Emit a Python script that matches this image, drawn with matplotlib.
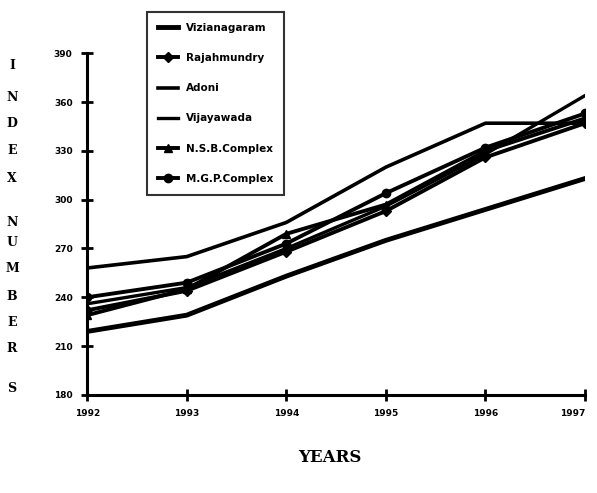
import numpy as np
import matplotlib.pyplot as plt

years = [1992, 1993, 1994, 1995, 1996, 1997]
vizianagaram = [219, 229, 253, 275, 294, 313]
rajahmundry = [232, 244, 268, 293, 326, 347]
adoni = [258, 265, 286, 320, 347, 347]
vijayawada = [236, 246, 270, 296, 328, 364]
nsb_complex = [229, 245, 279, 297, 330, 350]
mgp_complex = [240, 249, 273, 304, 332, 353]
yticks = [180, 210, 240, 270, 300, 330, 360, 390]

fig = plt.figure(figsize=(5.97, 4.93), dpi=100)
ax = fig.add_axes([0.146, 0.199, 0.834, 0.693])

ax.plot(years, vizianagaram, '-', color='black', lw=3.5, label='Vizianagaram')
ax.plot(years, rajahmundry, '-D', color='black', lw=2.8, ms=5, label='Rajahmundry')
ax.plot(years, adoni, '-', color='black', lw=2.6, label='Adoni')
ax.plot(years, vijayawada, '-', color='black', lw=2.4, label='Vijayawada')
ax.plot(years, nsb_complex, '-^', color='black', lw=2.8, ms=6, label='N.S.B.Complex')
ax.plot(years, mgp_complex, '-o', color='black', lw=2.8, ms=6, label='M.G.P.Complex')

ax.set_xlim(1992, 1997)
ax.set_ylim(180, 390)
for s in ['top', 'right']:
    ax.spines[s].set_visible(False)
for s in ['left', 'bottom']:
    ax.spines[s].set_linewidth(2.2)
ax.tick_params(direction='inout', length=9, width=2, pad=6)
ax.set_xticks(years)
ax.set_yticks(yticks)
ax.set_xticklabels([str(y) for y in years], fontsize=6.5, fontweight='bold')
ax.set_yticklabels([str(v) for v in yticks], fontsize=6.5, fontweight='bold')
ax.get_xticklabels()[-1].set_ha('right')

leg = fig.legend(loc='upper left', bbox_to_anchor=(0.238, 0.986), frameon=True,
                 fancybox=False, edgecolor='black',
                 handlelength=1.9, labelspacing=1.95, borderpad=1.0,
                 prop={'weight': 'bold', 'size': 7.5})
leg.get_frame().set_linewidth(1.5)

letters = ['I', 'N', 'D', 'E', 'X', 'N', 'U', 'M', 'B', 'E', 'R', 'S']
ys = [65, 97, 124, 150, 178, 222, 243, 268, 297, 322, 349, 389]
for ch, yp in zip(letters, ys):
    fig.text(12 / 597, 1 - yp / 493, ch, family='DejaVu Serif', fontweight='bold',
             fontsize=9, ha='center', va='center')

fig.text(330 / 597, 1 - 458 / 493, 'YEARS', family='DejaVu Serif', fontweight='bold',
         fontsize=12, ha='center', va='center')

fig.savefig('out.png', dpi=100)
